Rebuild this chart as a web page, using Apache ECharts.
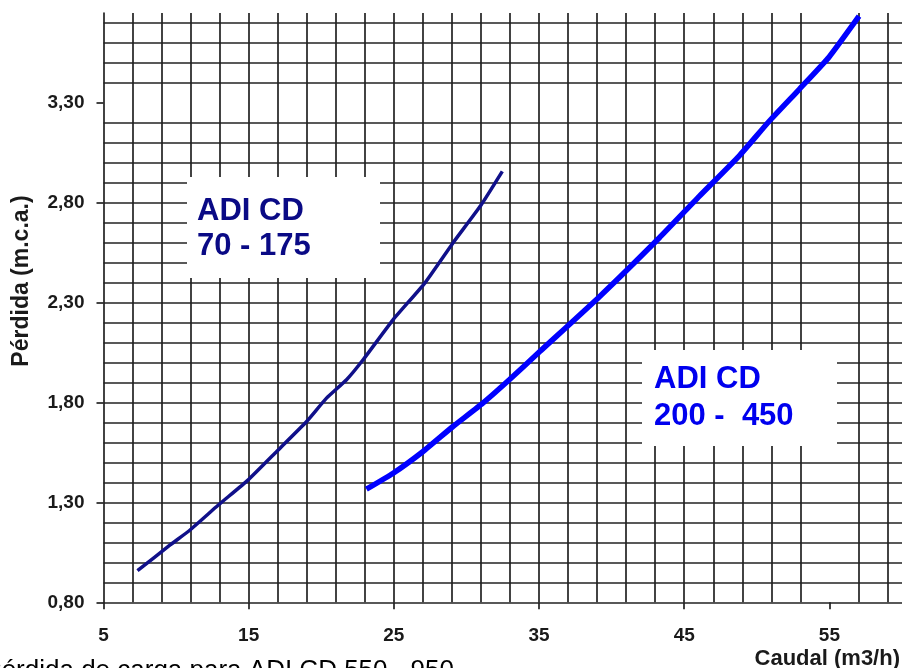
<!DOCTYPE html>
<html>
<head>
<meta charset="utf-8">
<script src="https://cdn.jsdelivr.net/npm/echarts@6/dist/echarts.min.js"></script>
<style>
html,body{margin:0;padding:0;background:#fff;}
#chart{width:902px;height:668px;}
</style>
</head>
<body>
<div id="chart"></div>
<script>
// ---- data ----
const xTickValues = [5, 15, 25, 35, 45, 55];
const yTickValues = [0.8, 1.3, 1.8, 2.3, 2.8, 3.3];

const seriesNames = ['ADI CD 70 - 175', 'ADI CD 200 - 450'];

const smallCaudal = [7.34, 9.59, 10.96, 12.91, 14.97, 16.93, 18.99, 20.36, 21.74, 22.88, 24.94, 27.13, 29.07, 31.02, 32.47];
const smallPerdida = [0.958, 1.087, 1.162, 1.287, 1.413, 1.555, 1.705, 1.822, 1.914, 2.014, 2.214, 2.398, 2.599, 2.790, 2.957];

const largeCaudal = [23.11, 24.95, 27.01, 29.07, 31.13, 32.97, 35.03, 39.16, 43.29, 46.03, 48.79, 50.85, 52.91, 54.98, 57.04];
const largePerdida = [1.366, 1.446, 1.555, 1.680, 1.797, 1.915, 2.054, 2.330, 2.625, 2.832, 3.035, 3.208, 3.367, 3.530, 3.734];

const xAxisTitle = 'Caudal (m3/h)';
const yAxisTitle = 'Pérdida (m.c.a.)';
const captionText = 'Pérdida de carga para ADI CD 550 - 950';

// ---- chart ----
const FONT = '"Liberation Sans", Arial, sans-serif';
const gridLine = { color: '#222222', width: 1.7 };

function pairs(xs, ys) { return xs.map((x, i) => [x, ys[i]]); }

const chart = echarts.init(document.getElementById('chart'), null, { renderer: 'canvas' });

chart.setOption({
  backgroundColor: '#ffffff',
  animation: false,
  grid: { left: 103.5, top: 13, width: 800, height: 589.3, containLabel: false },
  xAxis: {
    type: 'value', min: 5, max: 60, interval: 10,
    axisLine: { show: true, lineStyle: gridLine },
    axisTick: { show: true, length: 7, lineStyle: gridLine, customValues: xTickValues },
    minorTick: { show: false, splitNumber: 5 },
    axisLabel: {
      show: true, customValues: xTickValues, margin: 24,
      fontFamily: FONT, fontSize: 19, fontWeight: 'bold', color: '#1a1a1a',
      formatter: v => String(v)
    },
    splitLine: { show: true, lineStyle: gridLine, showMaxLine: false, showMinLine: false },
    minorSplitLine: { show: true, lineStyle: gridLine }
  },
  yAxis: {
    type: 'value', min: 0.8, max: 3.75, interval: 0.5,
    axisLine: { show: true, lineStyle: gridLine },
    axisTick: { show: true, length: 7, lineStyle: gridLine, customValues: yTickValues },
    minorTick: { show: false, splitNumber: 5 },
    axisLabel: {
      show: true, customValues: yTickValues, margin: 19,
      fontFamily: FONT, fontSize: 19, fontWeight: 'bold', color: '#1a1a1a',
      formatter: v => v.toFixed(2).replace('.', ',')
    },
    splitLine: { show: true, lineStyle: gridLine, showMaxLine: false, showMinLine: false },
    minorSplitLine: { show: true, lineStyle: gridLine }
  },
  series: [
    {
      name: seriesNames[0], type: 'line', data: pairs(smallCaudal, smallPerdida),
      showSymbol: false, smooth: 0.15,
      lineStyle: { color: '#10108a', width: 3.5 }, z: 5
    },
    {
      name: seriesNames[1], type: 'line', data: pairs(largeCaudal, largePerdida),
      showSymbol: false, smooth: 0.15,
      lineStyle: { color: '#0000ff', width: 5.5 }, z: 5
    }
  ],
  graphic: [
    { type: 'rect', shape: { x: 187, y: 177, width: 193, height: 101 }, style: { fill: '#fff' }, z: 10 },
    { type: 'text', x: 197, y: 211, z: 11, style: { text: 'ADI CD', fill: '#0a0a85', font: 'bold 31px ' + FONT, verticalAlign: 'middle', align: 'left' } },
    { type: 'text', x: 197, y: 246, z: 11, style: { text: '70 - 175', fill: '#0a0a85', font: 'bold 31px ' + FONT, verticalAlign: 'middle', align: 'left' } },
    { type: 'rect', shape: { x: 642, y: 350, width: 195, height: 96 }, style: { fill: '#fff' }, z: 10 },
    { type: 'text', x: 654, y: 379, z: 11, style: { text: 'ADI CD', fill: '#0000ee', font: 'bold 31px ' + FONT, verticalAlign: 'middle', align: 'left' } },
    { type: 'text', x: 654, y: 416, z: 11, style: { text: '200 -  450', fill: '#0000ee', font: 'bold 31px ' + FONT, verticalAlign: 'middle', align: 'left' } },
    { type: 'text', x: 22, y: 281, rotation: Math.PI / 2, z: 11, style: { text: yAxisTitle, fill: '#1a1a1a', font: 'bold 23px ' + FONT, verticalAlign: 'middle', align: 'center' } },
    { type: 'text', x: 900, y: 659, z: 11, style: { text: xAxisTitle, fill: '#1a1a1a', font: 'bold 22px ' + FONT, verticalAlign: 'middle', align: 'right' } },
    { type: 'text', x: 454, y: 671, z: 11, style: { text: captionText, fill: '#000', font: '26px ' + FONT, verticalAlign: 'middle', align: 'right' } }
  ]
});
</script>
</body>
</html>
